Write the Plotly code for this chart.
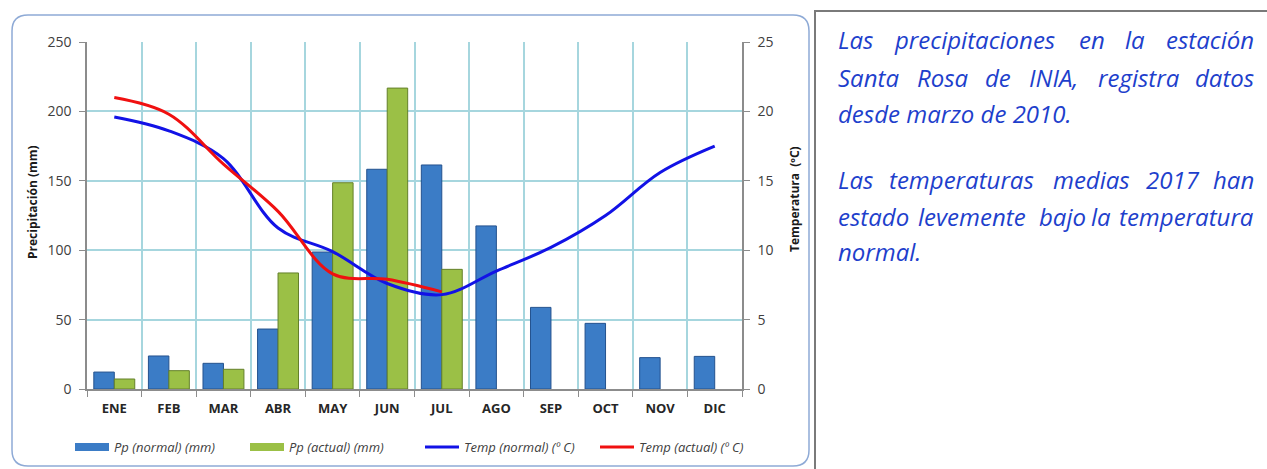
import plotly.graph_objects as go

# Monthly climate data, Santa Rosa station (INIA)
months = ["ENE", "FEB", "MAR", "ABR", "MAY", "JUN", "JUL", "AGO", "SEP", "OCT", "NOV", "DIC"]
pp_normal = [12.2, 23.8, 18.5, 43.2, 98.7, 158.3, 161.4, 117.5, 58.8, 47.3, 22.6, 23.5]
pp_actual = [7.2, 13.2, 14.2, 83.6, 148.6, 216.8, 86.2]
temp_normal = [19.6, 18.6, 16.6, 11.6, 9.9, 7.6, 6.8, 8.5, 10.2, 12.5, 15.6, 17.5]
temp_actual = [21.0, 19.8, 16.2, 12.8, 8.3, 7.9, 7.0]

series_names = ["Pp (normal) (mm)", "Pp (actual) (mm)", "Temp (normal) (º C)", "Temp (actual) (º C)"]
left_ticks = [0, 50, 100, 150, 200, 250]
right_ticks = [0, 5, 10, 15, 20, 25]

W, H = 1267, 469
ML, MR, MT, MB = 87, 525, 42, 80
PW, PH = W - ML - MR, H - MT - MB


def px(x):
    return (x - ML) / PW


def py(y):
    return (H - MB - y) / PH


blue_bar, blue_edge = "#3b7cc6", "#24528e"
green_bar, green_edge = "#9bc046", "#64802a"

fig = go.Figure()
fig.add_trace(go.Bar(
    x=months, y=pp_normal, name=series_names[0], legendgroup="ppn", showlegend=False,
    marker=dict(color=blue_bar, line=dict(color=blue_edge, width=1)),
))
fig.add_trace(go.Bar(
    x=months[:len(pp_actual)], y=pp_actual, name=series_names[1], legendgroup="ppa", showlegend=False,
    marker=dict(color=green_bar, line=dict(color=green_edge, width=1)),
))
# Legend keys for the bar series, drawn as wide flat bars
fig.add_trace(go.Scatter(
    x=[None], y=[None], name=series_names[0], legendgroup="ppn", mode="lines",
    line=dict(color=blue_bar, width=8),
))
fig.add_trace(go.Scatter(
    x=[None], y=[None], name=series_names[1], legendgroup="ppa", mode="lines",
    line=dict(color=green_bar, width=8),
))
fig.add_trace(go.Scatter(
    x=months, y=temp_normal, name=series_names[2], yaxis="y2", mode="lines",
    line=dict(color="#1212e6", width=3, shape="spline", smoothing=1.0),
))
fig.add_trace(go.Scatter(
    x=months[:len(temp_actual)], y=temp_actual, name=series_names[3], yaxis="y2", mode="lines",
    line=dict(color="#f01010", width=3, shape="spline", smoothing=1.0),
))

grid = "#a6d6de"
axis_line = "#8c8c8c"
tick_font = dict(family="Open Sans", size=14, color="#404040")

fig.update_layout(
    width=W, height=H,
    margin=dict(l=ML, r=MR, t=MT, b=MB, autoexpand=False),
    paper_bgcolor="white", plot_bgcolor="white",
    barmode="group", bargap=0.25, bargroupgap=0.0,
    showlegend=True,
    legend=dict(
        orientation="h", x=px(70), y=py(447), yanchor="middle", xanchor="left",
        font=dict(family="Open Sans", size=13, color="#404040", style="italic"),
        entrywidth=126, entrywidthmode="pixels", itemwidth=34,
        bgcolor="rgba(0,0,0,0)",
    ),
    xaxis=dict(
        type="category", tickson="boundaries", showgrid=True, gridcolor=grid, gridwidth=1.5,
        showline=True, linecolor=axis_line, linewidth=1.5,
        ticks="outside", ticklen=6, tickcolor=axis_line,
        tickfont=dict(family="Open Sans", size=13, color="#262626", weight="bold"),
        ticklabelstandoff=7,
        range=[-0.5, 11.5],
    ),
    yaxis=dict(
        range=[0, 250], tickvals=left_ticks, showgrid=True, gridcolor=grid, gridwidth=1.5,
        showline=True, linecolor=axis_line, linewidth=1.5,
        ticks="outside", ticklen=6, tickcolor=axis_line, tickfont=tick_font,
        ticklabelstandoff=5, zeroline=False,
    ),
    yaxis2=dict(
        range=[0, 25], tickvals=right_ticks, overlaying="y", side="right", showgrid=False,
        showline=True, linecolor=axis_line, linewidth=1.5,
        ticks="outside", ticklen=6, tickcolor=axis_line, tickfont=tick_font,
        ticklabelstandoff=5, zeroline=False,
    ),
)

# Axis titles
fig.add_annotation(
    text="Precipitación (mm)", x=px(32), y=py(202), xref="paper", yref="paper",
    textangle=-90, showarrow=False, xanchor="center", yanchor="middle",
    font=dict(family="Open Sans", size=12, color="#1a1a1a", weight="bold"),
)
fig.add_annotation(
    text="Temperatura  (ºC)", x=px(794), y=py(199), xref="paper", yref="paper",
    textangle=-90, showarrow=False, xanchor="center", yanchor="middle",
    font=dict(family="Open Sans", size=12, color="#1a1a1a", weight="bold"),
)

# Rounded frame around the chart
x0, x1, y0, y1, r = px(12), px(809), py(15), py(466), 16
rx, ry = r / PW, r / PH
frame = (
    f"M {x0 + rx},{y0} L {x1 - rx},{y0} Q {x1},{y0} {x1},{y0 - ry} "
    f"L {x1},{y1 + ry} Q {x1},{y1} {x1 - rx},{y1} "
    f"L {x0 + rx},{y1} Q {x0},{y1} {x0},{y1 + ry} "
    f"L {x0},{y0 - ry} Q {x0},{y0} {x0 + rx},{y0} Z"
)
fig.add_shape(type="path", path=frame, xref="paper", yref="paper",
              line=dict(color="#8eaad6", width=1.5), layer="below")

# Side text box border
fig.add_shape(type="path", xref="paper", yref="paper",
              path=f"M {px(815)},{py(470)} L {px(815)},{py(11)} L {px(1268)},{py(11)}",
              line=dict(color="#7a7a7a", width=2))

# Commentary (justified word by word)
text_lines = [
    (40, [("Las", 836), ("precipitaciones", 892), ("en", 1077), ("la", 1123), ("estación", 1165)]),
    (77, [("Santa", 836), ("Rosa", 915), ("de", 983), ("INIA,", 1027), ("registra", 1096), ("datos", 1196)]),
    (113, [("desde marzo de 2010.", 836)]),
    (179, [("Las", 836), ("temperaturas", 887), ("medias", 1051), ("2017", 1144), ("han", 1215)]),
    (216, [("estado", 836), ("levemente", 916), ("bajo", 1037), ("la", 1089), ("temperatura", 1118)]),
    (252, [("normal.", 836)]),
]
txt_font = dict(family="Open Sans", size=24, color="#1e3fcc", style="italic")
for yline, words in text_lines:
    for i, (w, xw) in enumerate(words):
        last = len(words) > 1 and i == len(words) - 1
        fig.add_annotation(
            text=w, x=px(1256) if last else px(xw), y=py(yline),
            xref="paper", yref="paper", showarrow=False,
            xanchor="right" if last else "left", yanchor="middle",
            font=txt_font,
        )

fig.write_html("out.html")
